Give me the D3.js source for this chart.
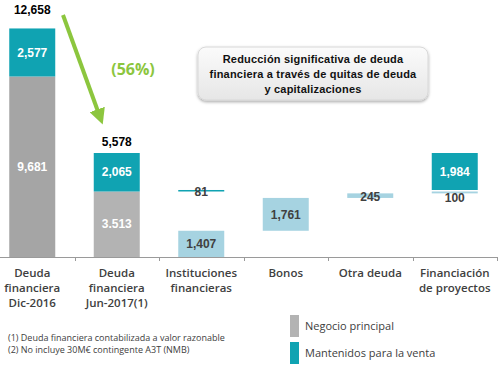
<!DOCTYPE html>
<html>
<head>
<meta charset="utf-8">
<script src="https://cdn.jsdelivr.net/npm/d3@7"></script>
<style>
  body { margin: 0; background: #fff; }
  svg { display: block; font-family: "Liberation Sans", Arial, sans-serif; }
</style>
</head>
<body>
<svg id="chart" width="500" height="367"></svg>
<script>
const categories = [
  ["Deuda", "financiera", "Dic-2016"],
  ["Deuda", "financiera", "Jun-2017(1)"],
  ["Instituciones", "financieras"],
  ["Bonos"],
  ["Otra deuda"],
  ["Financiación", "de proyectos"]
];
const principal = [9681, 3513, 1407, 1761, 245, 100];
const venta = [2577, 2065, 81, 0, 0, 1984];
const principalLabels = ["9,681", "3.513", "1,407", "1,761", "245", "100"];
const totals = [12658, 5578];
const changeLabel = "(56%)";
const boxLines = ["Reducción significativa de deuda", "financiera a través de quitas de deuda", "y capitalizaciones"];
const legendItems = ["Negocio principal", "Mantenidos para la venta"];
const footnotes = ["(1)  Deuda financiera contabilizada a valor razonable", "(2)  No incluye 30M€ contingente A3T (NMB)"];

const svg = d3.select("#chart");
const baseY = 257;

const x = d3.scaleBand()
  .domain(d3.range(categories.length))
  .range([-10, 497]);
const barW = 46;
const cx = i => x(i) + x.bandwidth() / 2;

const y = d3.scaleLinear()
  .domain([0, 12658])
  .range([baseY, 21]);

// totals for the first two bars, then a waterfall split of Jun-2017
const segs = [];
let pBase = 0, vBase = principal[1];
categories.forEach((c, i) => {
  if (i < 2) {
    segs.push({i, y0: 0, y1: principal[i], fill: i === 0 ? "#a5a5a5" : "#b3b3b3", label: principalLabels[i], lc: "#fff"});
    segs.push({i, y0: principal[i], y1: principal[i] + venta[i], fill: "#10a3b2", label: d3.format(",")(venta[i]), lc: "#fff"});
  } else {
    segs.push({i, y0: pBase, y1: pBase + principal[i], fill: "#a6d3e1", label: principalLabels[i], lc: "#404040"});
    pBase += principal[i];
    if (venta[i] > 0) {
      segs.push({i, y0: vBase, y1: vBase + venta[i], fill: "#10a3b2", label: d3.format(",")(venta[i]), lc: venta[i] > 500 ? "#fff" : "#404040"});
      vBase += venta[i];
    }
  }
});

svg.selectAll("rect.seg")
  .data(segs)
  .enter().append("rect")
  .attr("class", "seg")
  .attr("x", d => cx(d.i) - barW / 2)
  .attr("width", barW)
  .attr("y", d => y(d.y1))
  .attr("height", d => Math.max(1.5, y(d.y0) - y(d.y1)))
  .attr("fill", d => d.fill);

svg.selectAll("text.seg")
  .data(segs)
  .enter().append("text")
  .attr("class", "seg")
  .attr("x", d => cx(d.i))
  .attr("y", d => {
    const h = y(d.y0) - y(d.y1);
    if (d.label === "100") return y(d.y0) + 4;
    return (y(d.y0) + y(d.y1)) / 2 + (h < 20 ? 1 : 0);
  })
  .attr("dy", "0.35em")
  .attr("text-anchor", "middle")
  .attr("font-size", 12)
  .attr("font-weight", "bold")
  .attr("fill", d => d.lc)
  .text(d => d.label);

svg.selectAll("text.total")
  .data(totals)
  .enter().append("text")
  .attr("class", "total")
  .attr("x", (d, i) => cx(i))
  .attr("y", d => y(d) - 11)
  .attr("dy", "0.35em")
  .attr("text-anchor", "middle")
  .attr("font-size", 12)
  .attr("font-weight", "bold")
  .attr("fill", "#000")
  .text(d => d3.format(",")(d));

// axis
svg.append("line")
  .attr("x1", 0).attr("x2", 497)
  .attr("y1", baseY + 0.5).attr("y2", baseY + 0.5)
  .attr("stroke", "#9a9a9a");
svg.selectAll("line.tick")
  .data(d3.range(1, categories.length + 1))
  .enter().append("line")
  .attr("class", "tick")
  .attr("x1", i => Math.round(x(i - 1) + x.bandwidth()) + 0.5)
  .attr("x2", i => Math.round(x(i - 1) + x.bandwidth()) + 0.5)
  .attr("y1", baseY).attr("y2", baseY + 4)
  .attr("stroke", "#9a9a9a");

const catText = svg.selectAll("text.cat")
  .data(categories)
  .enter().append("text")
  .attr("class", "cat")
  .attr("text-anchor", "middle")
  .attr("font-family", "'Open Sans', sans-serif")
  .attr("font-size", 11.5)
  .attr("font-weight", 600)
  .attr("fill", "#404040");
catText.selectAll("tspan")
  .data((d, i) => d.map(t => ({t, i})))
  .enter().append("tspan")
  .attr("x", d => cx(d.i))
  .attr("y", (d, j) => 277 + j * 15)
  .text(d => d.t);

// arrow
const defs = svg.append("defs");
defs.append("marker")
  .attr("id", "head")
  .attr("viewBox", "0 0 10 10")
  .attr("refX", 5).attr("refY", 5)
  .attr("markerWidth", 4).attr("markerHeight", 4)
  .attr("orient", "auto")
  .append("path")
  .attr("d", "M0,0L10,5L0,10Z")
  .attr("fill", "#8cc63e");
svg.append("line")
  .attr("x1", 63).attr("y1", 15)
  .attr("x2", 100).attr("y2", 117)
  .attr("stroke", "#8cc63e")
  .attr("stroke-width", 4)
  .attr("marker-end", "url(#head)");

svg.append("text")
  .attr("x", 133).attr("y", 69)
  .attr("dy", "0.35em")
  .attr("text-anchor", "middle")
  .attr("font-family", "'Open Sans', sans-serif")
  .attr("font-size", 16)
  .attr("font-weight", "bold")
  .attr("fill", "#8cc63e")
  .text(changeLabel);

// text box
const grad = defs.append("linearGradient")
  .attr("id", "boxg").attr("x1", 0).attr("x2", 0).attr("y1", 0).attr("y2", 1);
grad.append("stop").attr("offset", "0%").attr("stop-color", "#fbfbfb");
grad.append("stop").attr("offset", "100%").attr("stop-color", "#e6e6e6");
const shadow = defs.append("filter").attr("id", "shadow")
  .attr("x", "-10%").attr("y", "-20%").attr("width", "120%").attr("height", "150%");
shadow.append("feDropShadow")
  .attr("dx", 0).attr("dy", 1.5).attr("stdDeviation", 1.5)
  .attr("flood-color", "#000").attr("flood-opacity", 0.35);

svg.append("rect")
  .attr("x", 198).attr("y", 47)
  .attr("width", 230).attr("height", 53)
  .attr("rx", 8)
  .attr("fill", "url(#boxg)")
  .attr("stroke", "#d8d8d8")
  .attr("filter", "url(#shadow)");
svg.append("text")
  .attr("text-anchor", "middle")
  .attr("font-size", 11)
  .attr("font-weight", "bold")
  .attr("letter-spacing", 0.2)
  .attr("fill", "#111")
  .selectAll("tspan")
  .data(boxLines)
  .enter().append("tspan")
  .attr("x", 313)
  .attr("y", (d, i) => 63 + i * 15)
  .text(d => d);

// legend
const legendColors = ["#b3b3b3", "#10a3b2"];
const lg = svg.selectAll("g.legend")
  .data(legendItems)
  .enter().append("g")
  .attr("class", "legend")
  .attr("transform", (d, i) => `translate(290, ${315 + i * 27})`);
lg.append("rect")
  .attr("width", 9).attr("height", 22)
  .attr("fill", (d, i) => legendColors[i]);
lg.append("text")
  .attr("x", 15).attr("y", 11)
  .attr("dy", "0.35em")
  .attr("font-family", "'Open Sans', sans-serif")
  .attr("font-size", 11)
  .attr("fill", "#404040")
  .text(d => d);

// footnotes
svg.selectAll("text.note")
  .data(footnotes)
  .enter().append("text")
  .attr("class", "note")
  .attr("x", 8)
  .attr("y", (d, i) => 341 + i * 12)
  .attr("font-family", "'Open Sans', sans-serif")
  .attr("font-size", 9)
  .attr("fill", "#404040")
  .text(d => d);
</script>
</body>
</html>
